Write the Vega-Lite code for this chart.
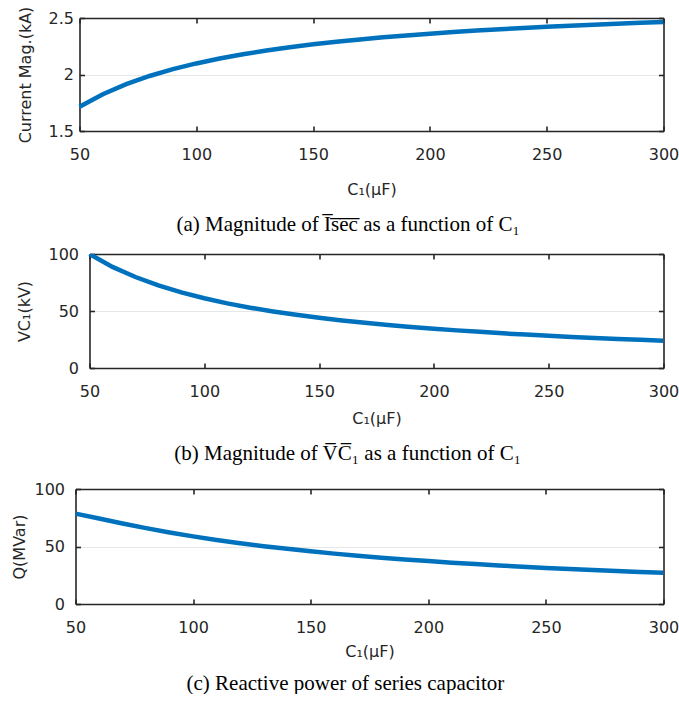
{
  "$schema": "https://vega.github.io/schema/vega-lite/v6.json",
  "background": "white",
  "padding": {"left": 11.5, "top": 6, "right": 0, "bottom": 0},
  "spacing": 11,
  "datasets": {
    "d": [
      {"C": 50, "I": 1.715, "VC": 100.0, "Q": 78.6},
      {"C": 60, "I": 1.826, "VC": 88.7, "Q": 74.3},
      {"C": 70, "I": 1.915, "VC": 79.8, "Q": 70.0},
      {"C": 80, "I": 1.987, "VC": 72.4, "Q": 66.0},
      {"C": 90, "I": 2.047, "VC": 66.3, "Q": 62.2},
      {"C": 100, "I": 2.098, "VC": 61.2, "Q": 58.8},
      {"C": 110, "I": 2.141, "VC": 56.7, "Q": 55.7},
      {"C": 120, "I": 2.179, "VC": 52.9, "Q": 52.9},
      {"C": 130, "I": 2.212, "VC": 49.6, "Q": 50.3},
      {"C": 140, "I": 2.241, "VC": 46.7, "Q": 48.0},
      {"C": 150, "I": 2.267, "VC": 44.1, "Q": 45.8},
      {"C": 160, "I": 2.290, "VC": 41.7, "Q": 43.8},
      {"C": 170, "I": 2.310, "VC": 39.6, "Q": 41.9},
      {"C": 180, "I": 2.329, "VC": 37.7, "Q": 40.3},
      {"C": 190, "I": 2.346, "VC": 36.0, "Q": 38.7},
      {"C": 200, "I": 2.361, "VC": 34.4, "Q": 37.3},
      {"C": 210, "I": 2.376, "VC": 33.0, "Q": 35.9},
      {"C": 220, "I": 2.389, "VC": 31.7, "Q": 34.7},
      {"C": 230, "I": 2.401, "VC": 30.4, "Q": 33.5},
      {"C": 240, "I": 2.412, "VC": 29.3, "Q": 32.4},
      {"C": 250, "I": 2.422, "VC": 28.2, "Q": 31.4},
      {"C": 260, "I": 2.432, "VC": 27.3, "Q": 30.4},
      {"C": 270, "I": 2.441, "VC": 26.4, "Q": 29.5},
      {"C": 280, "I": 2.449, "VC": 25.5, "Q": 28.6},
      {"C": 290, "I": 2.457, "VC": 24.7, "Q": 27.8},
      {"C": 300, "I": 2.465, "VC": 24.0, "Q": 27.1}
    ]
  },
  "data": {"name": "d"},
  "config": {
    "view": {"stroke": null},
    "font": "DejaVu Sans",
    "axis": {
      "labelFont": "DejaVu Sans", "labelFontSize": 16, "labelColor": "#262626", "labelFlush": false,
      "titleFont": "DejaVu Sans", "titleFontSize": 16, "titleFontWeight": "normal", "titleColor": "#262626",
      "tickColor": "#262626", "tickSize": -5, "tickWidth": 1.6,
      "domain": true, "domainColor": "#262626", "domainWidth": 1.6,
      "gridColor": "#e6e6e6", "gridWidth": 1.2
    },
    "title": {"font": "Liberation Serif", "fontSize": 21, "fontWeight": "normal", "orient": "bottom", "color": "#000000", "anchor": "middle", "frame": "bounds"}
  },
  "vconcat": [
    {
      "width": 588, "height": 113,
      "title": {"text": "(a) Magnitude of  I̅s̅e̅c̅  as a function of C₁", "offset": 17},
      "layer": [
        {
          "mark": {"type": "line", "color": "#0072BD", "strokeWidth": 4.5, "clip": true},
          "encoding": {
            "x": {"field": "C", "type": "quantitative", "scale": {"domain": [50, 300], "range": [4, 588], "nice": false, "zero": false},
                  "axis": {"values": [50, 100, 150, 200, 250, 300], "title": "C₁(μF)", "grid": false, "labelPadding": 20, "titlePadding": 19}},
            "y": {"field": "I", "type": "quantitative", "scale": {"domain": [1.5, 2.5], "nice": false, "zero": false},
                  "axis": {"values": [1.5, 2, 2.5], "format": "~g", "title": "Current Mag.(kA)", "grid": true, "offset": -4, "labelPadding": 11, "titlePadding": 14.5}}
          }
        },
        {
          "mark": {"type": "line", "strokeOpacity": 0},
          "encoding": {
            "x": {"field": "C", "type": "quantitative", "axis": {"orient": "top", "values": [50, 100, 150, 200, 250, 300], "labels": false, "title": null, "grid": false}},
            "y": {"field": "I", "type": "quantitative", "axis": {"orient": "right", "values": [1.5, 2, 2.5], "labels": false, "title": null, "grid": false}}
          }
        }
      ],
      "resolve": {"axis": {"x": "independent", "y": "independent"}}
    },
    {
      "width": 588, "height": 114,
      "title": {"text": ["(b) Magnitude of  V̅C̅₁  as a function of C₁", " "], "offset": 16, "lineHeight": 6.5},
      "layer": [
        {
          "mark": {"type": "line", "color": "#0072BD", "strokeWidth": 4.5, "clip": true},
          "encoding": {
            "x": {"field": "C", "type": "quantitative", "scale": {"domain": [50, 300], "range": [14, 588], "nice": false, "zero": false},
                  "axis": {"values": [50, 100, 150, 200, 250, 300], "title": "C₁(μF)", "grid": false, "labelPadding": 20, "titlePadding": 11.5}},
            "y": {"field": "VC", "type": "quantitative", "scale": {"domain": [0, 100], "nice": false},
                  "axis": {"values": [0, 50, 100], "title": "VC₁(kV)", "grid": true, "offset": -14, "labelPadding": 16, "titlePadding": 15.5}}
          }
        },
        {
          "mark": {"type": "line", "strokeOpacity": 0},
          "encoding": {
            "x": {"field": "C", "type": "quantitative", "axis": {"orient": "top", "values": [50, 100, 150, 200, 250, 300], "labels": false, "title": null, "grid": false}},
            "y": {"field": "VC", "type": "quantitative", "axis": {"orient": "right", "values": [0, 50, 100], "labels": false, "title": null, "grid": false}}
          }
        }
      ],
      "resolve": {"axis": {"x": "independent", "y": "independent"}}
    },
    {
      "width": 588, "height": 115,
      "title": {"text": "(c) Reactive power of series capacitor", "offset": 13},
      "layer": [
        {
          "mark": {"type": "line", "color": "#0072BD", "strokeWidth": 4.5, "clip": true},
          "encoding": {
            "x": {"field": "C", "type": "quantitative", "scale": {"domain": [50, 300], "nice": false, "zero": false},
                  "axis": {"values": [50, 100, 150, 200, 250, 300], "title": "C₁(μF)", "grid": false, "labelPadding": 20, "titlePadding": 8.5}},
            "y": {"field": "Q", "type": "quantitative", "scale": {"domain": [0, 100], "nice": false},
                  "axis": {"values": [0, 50, 100], "title": "Q(MVar)", "grid": true, "labelPadding": 16, "titlePadding": 6}}
          }
        },
        {
          "mark": {"type": "line", "strokeOpacity": 0},
          "encoding": {
            "x": {"field": "C", "type": "quantitative", "axis": {"orient": "top", "values": [50, 100, 150, 200, 250, 300], "labels": false, "title": null, "grid": false}},
            "y": {"field": "Q", "type": "quantitative", "axis": {"orient": "right", "values": [0, 50, 100], "labels": false, "title": null, "grid": false}}
          }
        }
      ],
      "resolve": {"axis": {"x": "independent", "y": "independent"}}
    }
  ]
}
